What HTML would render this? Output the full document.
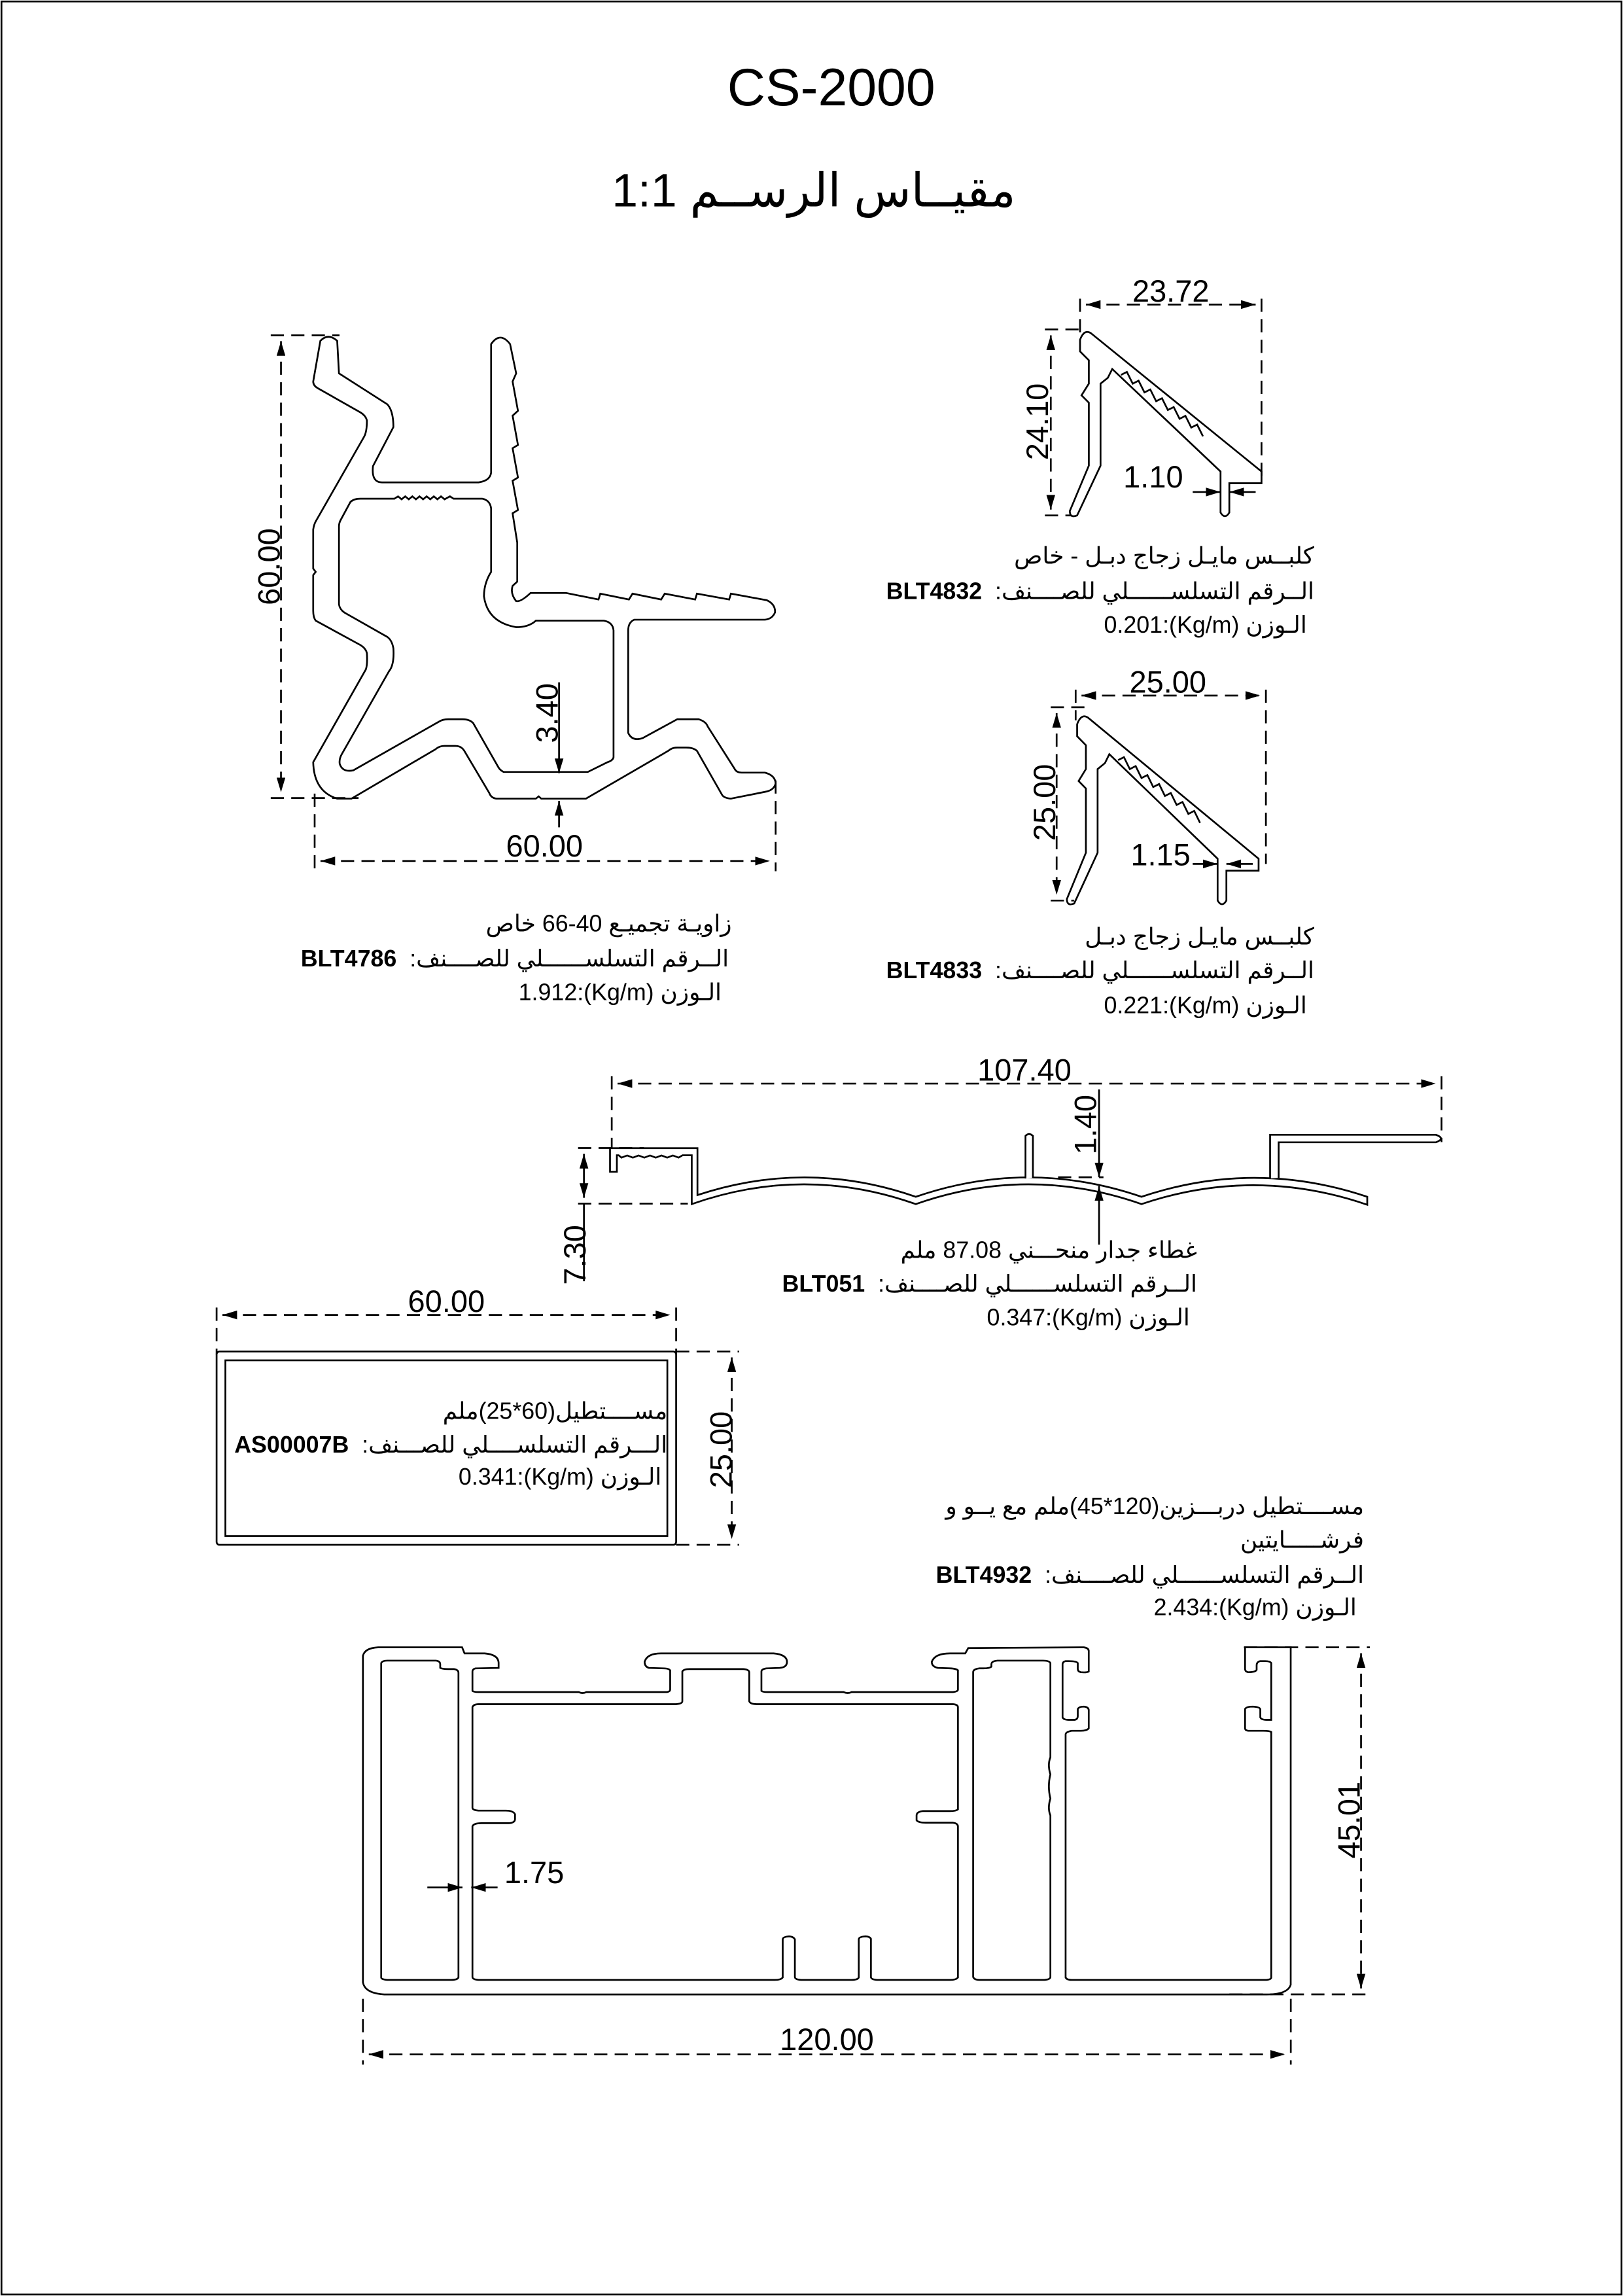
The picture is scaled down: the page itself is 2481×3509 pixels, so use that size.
<!DOCTYPE html>
<html><head><meta charset="utf-8">
<style>
html,body{margin:0;padding:0;background:#fff;}
body{width:2481px;height:3509px;overflow:hidden;position:relative;}
#c{position:absolute;left:0;top:0;width:1109px;height:1568px;transform-origin:0 0;transform:scale(2.23715,2.23788);font-family:"Liberation Sans","DejaVu Sans",sans-serif;color:#000;}
svg{position:absolute;left:0;top:0;}
.t{position:absolute;white-space:nowrap;font-size:16px;line-height:18px;direction:ltr;text-align:right;}
.t b{font-weight:bold;}
</style></head><body>
<div id="c">
<svg width="1109" height="1568" viewBox="0 0 1109 1568" xmlns="http://www.w3.org/2000/svg">
<defs>
<marker id="a" viewBox="0 0 10 6" refX="10" refY="3" markerWidth="10" markerHeight="6" markerUnits="userSpaceOnUse" orient="auto-start-reverse"><path d="M0,0 L10,3 L0,6 Z" fill="#000"/></marker>
</defs>
<rect x="1" y="1" width="1107" height="1566" fill="none" stroke="#000" stroke-width="1.2"/>
<g fill="none" stroke="#000" stroke-width="1.2">
<g transform="translate(192,229) scale(0.2446,0.2222) translate(-88,-68)" fill="#fff">
<path vector-effect="non-scaling-stroke" d="M178,210 L198,85 Q220,60 245,85 L250,185 L385,280 Q402,300 402,350 L345,470 Q340,520 370,520 L640,520 Q672,515 675,490 L675,95 Q700,55 728,95 L745,185 L735,210 L750,300 L735,315 L750,405 L735,415 L750,505 L735,515 L750,605 L735,615 L748,705 L748,825 L735,838 Q728,862 745,885 Q758,888 785,860 L885,860 L975,880 L980,862 L1060,880 L1070,862 L1150,880 L1160,862 L1245,880 L1250,862 L1340,880 L1345,862 L1445,882 Q1470,895 1468,920 Q1460,940 1440,942 L1075,942 Q1058,950 1058,975 L1058,1290 Q1070,1318 1100,1305 L1195,1248 L1255,1248 Q1275,1255 1280,1270 L1355,1400 Q1360,1412 1375,1412 L1440,1412 Q1468,1420 1470,1445 Q1465,1465 1445,1470 L1345,1492 Q1325,1490 1320,1480 L1250,1345 Q1240,1335 1220,1335 L1195,1335 Q1180,1335 1170,1345 L940,1492 L815,1492 L808,1485 L800,1492 L690,1492 Q675,1490 670,1475 L600,1345 Q592,1330 575,1330 L545,1330 Q530,1330 520,1340 L285,1492 L245,1492 Q180,1470 178,1380 L325,1095 Q330,1080 328,1045 Q325,1030 310,1020 L185,945 Q178,935 178,915 L178,805 L185,795 L178,785 L178,665 Q180,650 185,640 L320,380 Q328,365 328,330 Q325,315 310,305 L190,230 Q178,222 178,210 Z"/>
<path vector-effect="non-scaling-stroke" d="M250,655 Q250,645 255,635 L282,580 Q292,570 310,570 L405,570 L415,563 L425,572 L435,563 L445,572 L455,563 L465,572 L475,563 L485,572 L495,563 L505,572 L515,563 L525,572 L535,563 L545,572 L560,563 L570,570 L650,570 Q672,575 675,600 L675,795 Q655,830 655,870 Q665,950 745,965 Q780,965 800,945 L990,945 Q1015,950 1017,975 L1017,1365 Q1015,1375 1000,1380 L945,1410 L710,1410 Q700,1405 695,1395 L625,1260 Q615,1248 595,1248 L555,1248 Q540,1248 530,1255 L290,1405 Q260,1412 252,1385 Q250,1370 258,1355 L390,1100 Q405,1080 402,1030 Q398,1005 385,995 L265,920 Q252,910 250,895 Z"/>
</g>
<path d="M192,233 L192,541" stroke-dasharray="9 5" marker-start="url(#a)" marker-end="url(#a)"/>
<path d="M185,229 L232,229 M185,545 L245,545" stroke-dasharray="9 5"/>
<path d="M219,588 L526,588" stroke-dasharray="9 5" marker-start="url(#a)" marker-end="url(#a)"/>
<path d="M215,542 L215,595 M530,533 L530,595" stroke-dasharray="9 5"/>
<path d="M382,466 L382,528" marker-end="url(#a)"/>
<path d="M382,565 L382,547" marker-end="url(#a)"/>

<g fill="#fff">
<path d="M738,232 Q741,224 746,228 L862,322 L862,330 L840,330 L840,350 Q837,355 834,350 L834,322 L760,252 L757,258 L752,262 L752,318 L736,352 Q731,354 731,349 L744,318 L744,275 L739,270 L744,262 L744,246 L738,240 Z"/>
<path d="M766,256 L770,254 L774,262 L778,260 L782,268 L786,266 L790,274 L794,272 L798,280 L802,278 L806,286 L810,284 L814,292 L818,290 L822,298" fill="none"/>
</g>
<path d="M742,208 L858,208" stroke-dasharray="9 5" marker-start="url(#a)" marker-end="url(#a)"/>
<path d="M738,204 L738,232 M862,204 L862,330" stroke-dasharray="9 5"/>
<path d="M718,229 L718,348" stroke-dasharray="9 5" marker-start="url(#a)" marker-end="url(#a)"/>
<path d="M714,225 L740,225 M714,352 L732,352" stroke-dasharray="9 5"/>
<path d="M815,336 L834,336" marker-end="url(#a)"/>
<path d="M858,336 L840,336" marker-end="url(#a)"/>

<g transform="translate(-2,258) scale(1,1.02)" fill="#fff">
<path vector-effect="non-scaling-stroke" d="M738,232 Q741,224 746,228 L862,322 L862,330 L840,330 L840,350 Q837,355 834,350 L834,322 L760,252 L757,258 L752,262 L752,318 L736,352 Q731,354 731,349 L744,318 L744,275 L739,270 L744,262 L744,246 L738,240 Z"/>
<path vector-effect="non-scaling-stroke" d="M766,256 L770,254 L774,262 L778,260 L782,268 L786,266 L790,274 L794,272 L798,280 L802,278 L806,286 L810,284 L814,292 L818,290 L822,298" fill="none"/>
</g>
<path d="M739,475 L861,475" stroke-dasharray="9 5" marker-start="url(#a)" marker-end="url(#a)"/>
<path d="M735,471 L735,492 M865,471 L865,590" stroke-dasharray="9 5"/>
<path d="M722,487 L722,611" stroke-dasharray="9 5" marker-start="url(#a)" marker-end="url(#a)"/>
<path d="M718,483 L742,483 M718,615 L734,615" stroke-dasharray="9 5"/>
<path d="M815,590 L832,590" marker-end="url(#a)"/>
<path d="M856,590 L838,590" marker-end="url(#a)"/>

<g transform="translate(418,740) scale(0.3905,0.147) translate(-88,-112)" fill="#fff">
<path vector-effect="non-scaling-stroke" d="M85,412 L238,412 L238,630 Q430,462 620,638 Q817,458 1015,638 Q1212,462 1410,638 L1410,675 Q1212,495 1015,672 Q817,488 620,672 Q425,488 228,672 L228,445 L212,445 L205,456 L195,446 L185,456 L175,446 L165,456 L155,446 L145,456 L135,446 L125,456 L115,446 L105,456 L100,445 L97,445 L97,522 L85,522 Z"/>
<path vector-effect="non-scaling-stroke" d="M812,553 L812,355 Q818,338 825,355 L825,550"/>
<path vector-effect="non-scaling-stroke" d="M1240,553 L1240,350 L1530,350 Q1548,367 1530,385 L1255,385 L1255,550"/>
</g>
<path d="M422,740 L981,740" stroke-dasharray="9 5" marker-start="url(#a)" marker-end="url(#a)"/>
<path d="M418,735 L418,784 M985,735 L985,780" stroke-dasharray="9 5"/>
<path d="M751,744 L751,804" marker-end="url(#a)"/>
<path d="M723,804 L754,804" stroke-dasharray="9 5"/>
<path d="M751,850 L751,810" marker-end="url(#a)"/>
<path d="M399,788 L399,818" marker-start="url(#a)" marker-end="url(#a)"/>
<path d="M395,784 L440,784 M395,822 L470,822" stroke-dasharray="9 5"/>
<path d="M399,822 L399,875"/>

<rect x="148" y="923" width="314" height="132" rx="2"/>
<rect x="154" y="929" width="302" height="120"/>
<path d="M152,898 L458,898" stroke-dasharray="9 5" marker-start="url(#a)" marker-end="url(#a)"/>
<path d="M148,893 L148,925 M462,893 L462,925" stroke-dasharray="9 5"/>
<path d="M500,927 L500,1051" stroke-dasharray="9 5" marker-start="url(#a)" marker-end="url(#a)"/>
<path d="M462,923 L505,923 M462,1055 L505,1055" stroke-dasharray="9 5"/>

<g transform="translate(248,1125) scale(0.4157,0.1652) translate(-15,-75)" fill="#fff">
<path vector-effect="non-scaling-stroke" d="M40,75 L178,75 L182,100 L215,100 Q238,105 238,140 L238,160 L200,162 Q195,165 195,175 L195,255 Q197,260 205,260 L370,260 Q376,268 382,260 L515,260 Q520,258 520,250 L520,170 Q518,163 510,162 L485,160 Q478,155 478,135 Q482,100 505,100 L690,100 Q712,105 712,135 Q712,158 700,160 L678,162 Q670,165 670,175 L670,255 Q672,260 680,260 L805,260 Q812,268 818,260 L985,260 Q993,258 993,250 L993,170 Q990,163 980,162 L960,160 Q950,155 950,135 Q955,100 980,100 L1005,100 L1010,78 L1200,75 Q1208,78 1208,90 L1208,175 Q1205,180 1195,178 Q1190,175 1190,165 L1190,140 Q1188,132 1175,132 L1170,132 Q1165,135 1165,145 L1165,365 Q1167,375 1175,375 L1185,375 Q1190,372 1190,360 L1190,330 Q1192,320 1200,320 Q1208,322 1208,335 L1208,410 Q1205,420 1195,420 L1180,420 Q1170,425 1170,435 L1170,1440 Q1172,1450 1180,1450 L1500,1450 Q1508,1448 1508,1440 L1508,425 Q1505,420 1495,420 L1470,420 Q1465,418 1465,410 L1465,330 Q1467,320 1478,320 Q1490,322 1490,332 L1490,365 Q1492,375 1500,375 L1508,375 L1508,140 Q1506,132 1498,132 L1490,132 Q1484,135 1484,150 L1484,168 Q1482,178 1470,178 Q1465,175 1465,165 L1465,75 L1540,75 L1540,1470 Q1535,1510 1500,1510 L50,1510 Q18,1505 15,1460 L15,110 Q18,78 40,75 Z"/>
<path vector-effect="non-scaling-stroke" d="M55,130 L135,130 Q142,132 142,145 L142,160 Q145,165 155,165 L165,165 Q172,168 172,180 L172,1440 Q170,1450 160,1450 L55,1450 Q45,1448 45,1440 L45,140 Q47,130 55,130 Z"/>
<path vector-effect="non-scaling-stroke" d="M205,310 L530,310 Q540,308 540,298 L540,175 Q542,165 552,165 L640,165 Q650,167 650,178 L650,298 Q652,310 662,310 L985,310 Q993,312 993,322 L993,745 Q990,752 980,752 L935,752 Q925,755 925,770 L925,790 Q928,800 940,800 L985,800 Q993,803 993,815 L993,1440 Q990,1450 980,1450 L860,1450 Q850,1448 850,1438 L850,1280 Q848,1270 840,1270 Q830,1272 830,1282 L830,1440 Q828,1450 818,1450 L735,1450 Q725,1448 725,1438 L725,1282 Q722,1270 715,1270 Q705,1272 705,1282 L705,1440 Q702,1450 692,1450 L205,1450 Q195,1448 195,1438 L195,815 Q197,802 210,802 L255,802 Q265,800 265,785 L265,765 Q262,750 250,750 L205,750 Q195,748 195,738 L195,322 Q197,310 205,310 Z"/>
<path vector-effect="non-scaling-stroke" d="M1028,1450 L1135,1450 Q1145,1448 1145,1438 L1145,770 Q1140,740 1145,700 Q1140,650 1145,600 Q1140,560 1145,530 L1145,140 Q1143,130 1133,130 L1058,130 Q1048,132 1048,145 L1048,155 Q1045,162 1035,162 L1028,162 Q1018,165 1018,178 L1018,1438 Q1020,1450 1028,1450 Z"/>
</g>
<path d="M252,1403 L878,1403" stroke-dasharray="9 5" marker-start="url(#a)" marker-end="url(#a)"/>
<path d="M248,1365 L248,1410 M882,1365 L882,1410" stroke-dasharray="9 5"/>
<path d="M930,1129 L930,1358" stroke-dasharray="9 5" marker-start="url(#a)" marker-end="url(#a)"/>
<path d="M850,1125 L936,1125 M840,1362 L936,1362" stroke-dasharray="9 5"/>
<path d="M292,1289 L316,1289" marker-end="url(#a)"/>
<path d="M340,1289 L322,1289" marker-end="url(#a)"/>
</g>

<g font-family="Liberation Sans, sans-serif" font-size="21" fill="#000" text-anchor="middle">
<text x="568" y="72" font-size="36">CS-2000</text>
<text transform="translate(191,387) rotate(-90)">60.00</text>
<text x="372" y="585">60.00</text>
<text transform="translate(381,487) rotate(-90)">3.40</text>
<text x="800" y="206">23.72</text>
<text transform="translate(716,288) rotate(-90)">24.10</text>
<text x="788" y="333">1.10</text>
<text x="798" y="473">25.00</text>
<text transform="translate(721,548) rotate(-90)">25.00</text>
<text x="793" y="591">1.15</text>
<text x="700" y="738">107.40</text>
<text transform="translate(749,768) rotate(-90)">1.40</text>
<text transform="translate(400,857) rotate(-90)">7.30</text>
<text x="305" y="896">60.00</text>
<text transform="translate(500,990) rotate(-90)">25.00</text>
<text x="565" y="1400">120.00</text>
<text transform="translate(929,1243) rotate(-90)">45.01</text>
<text x="365" y="1286">1.75</text>
</g>
</svg>

<div class="t" style="right:415px;top:110px;font-size:32px;line-height:40px;">1:1 <bdi dir="rtl">مقيــاس الرســم</bdi></div>

<div class="t" style="right:609px;top:623px;"><bdi dir="rtl">زاويـة تجميـع 40-66 خاص</bdi></div>
<div class="t" style="right:611px;top:647px;"><b>BLT4786</b>&nbsp; <bdi dir="rtl">الــرقم التسلســــــلي للصــــنف:</bdi></div>
<div class="t" style="right:616px;top:670px;">1.912:(Kg/m) <bdi dir="rtl">الـوزن</bdi></div>

<div class="t" style="right:211px;top:372px;"><bdi dir="rtl">كلبــس مايـل زجاج دبـل - خاص</bdi></div>
<div class="t" style="right:211px;top:396px;"><b>BLT4832</b>&nbsp; <bdi dir="rtl">الــرقم التسلســــــلي للصــــنف:</bdi></div>
<div class="t" style="right:216px;top:419px;">0.201:(Kg/m) <bdi dir="rtl">الـوزن</bdi></div>

<div class="t" style="right:211px;top:632px;"><bdi dir="rtl">كلبــس مايـل زجاج دبـل</bdi></div>
<div class="t" style="right:211px;top:655px;"><b>BLT4833</b>&nbsp; <bdi dir="rtl">الــرقم التسلســــــلي للصــــنف:</bdi></div>
<div class="t" style="right:216px;top:679px;">0.221:(Kg/m) <bdi dir="rtl">الـوزن</bdi></div>

<div class="t" style="right:291px;top:846px;"><bdi dir="rtl">غطاء جدار منحـــني 87.08 ملم</bdi></div>
<div class="t" style="right:291px;top:869px;"><b>BLT051</b>&nbsp; <bdi dir="rtl">الــرقم التسلســــــلي للصــــنف:</bdi></div>
<div class="t" style="right:296px;top:892px;">0.347:(Kg/m) <bdi dir="rtl">الـوزن</bdi></div>

<div class="t" style="right:653px;top:956px;"><bdi dir="rtl">مســــتطيل(60*25)ملم</bdi></div>
<div class="t" style="right:653px;top:979px;"><b>AS00007B</b>&nbsp; <bdi dir="rtl">الـــرقم التسلســــلي للصـــنف:</bdi></div>
<div class="t" style="right:657px;top:1001px;">0.341:(Kg/m) <bdi dir="rtl">الـوزن</bdi></div>

<div class="t" style="right:177px;top:1021px;"><bdi dir="rtl">مســــتطيل دربـــزين(120*45)ملم مع يــو و</bdi></div>
<div class="t" style="right:177px;top:1044px;"><bdi dir="rtl">فرشـــــايتين</bdi></div>
<div class="t" style="right:177px;top:1068px;"><b>BLT4932</b>&nbsp; <bdi dir="rtl">الــرقم التسلســــــلي للصــــنف:</bdi></div>
<div class="t" style="right:182px;top:1090px;">2.434:(Kg/m) <bdi dir="rtl">الـوزن</bdi></div>
</div>
</body></html>
